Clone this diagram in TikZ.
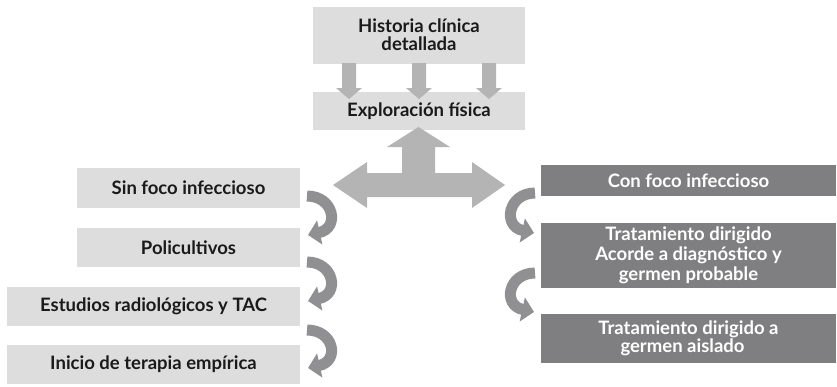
\documentclass[tikz,border=0pt]{standalone}
\usepackage{fontspec}
\setmainfont{Lato}
\usetikzlibrary{arrows.meta}
\definecolor{lightbox}{HTML}{DDDDDE}
\definecolor{darkbox}{HTML}{7F7F81}
\definecolor{arrowgray}{HTML}{B4B4B5}
\definecolor{curvegray}{HTML}{909092}
\definecolor{textdark}{HTML}{1A1A1A}
\begin{document}
\begin{tikzpicture}[x=1pt,y=-1pt,
  box/.style={rectangle, inner sep=0pt, align=center, font=\bfseries\fontsize{18.5}{20}\selectfont},
  lbox/.style={box, fill=lightbox, text=textdark},
  dbox/.style={box, fill=darkbox, text=white},
  bigarrow/.style={fill=arrowgray},
  curvearrow/.style={draw=curvegray, line width=11pt, -{Triangle[width=24pt,length=12pt]}}
]
\useasboundingbox (0,0) rectangle (837,386);
% top boxes
\node[lbox, minimum width=212pt, minimum height=57pt] (hist) at (419,35) {Historia clínica\\[-2pt]detallada};
\node[lbox, minimum width=212pt, minimum height=38pt] (expl) at (419,111) {Exploración física};
% left column
\node[lbox, minimum width=223pt, minimum height=40pt] (sin) at (188.5,188) {Sin foco infeccioso};
\node[lbox, minimum width=223pt, minimum height=39pt] (poli) at (188.5,247.5) {Policultivos};
\node[lbox, minimum width=293pt, minimum height=39pt] (estu) at (153.5,306.5) {Estudios radiológicos y TAC};
\node[lbox, minimum width=293pt, minimum height=39pt] (inic) at (153.5,364.5) {Inicio de terapia empírica};
% right column
\node[dbox, minimum width=295pt, minimum height=31pt] (con) at (688.5,180.5) {Con foco infeccioso};
\node[dbox, minimum width=295pt, minimum height=65pt] (trat1) at (688.5,255.5) {Tratamiento dirigido\\Acorde a diagnóstico y\\germen probable};
\node[dbox, minimum width=295pt, minimum height=49pt] (trat2) at (688.5,338.5) {Tratamiento dirigido a\\[-2pt]germen aislado\hspace*{12pt}};
% three down arrows from hist to expl
\foreach \xx in {349,419,489}{
  \fill[bigarrow] (\xx-7,63) -- (\xx+7,63) -- (\xx+7,88) -- (\xx+13,88) -- (\xx,99) -- (\xx-13,88) -- (\xx-7,88) -- cycle;
}
% T-shaped arrow from expl
\fill[bigarrow] (418.5,127) -- (450,147) -- (435,147) -- (435,173) -- (472,173) -- (472,162) -- (505,185) -- (472,208) -- (472,197) -- (367,197) -- (367,208) -- (333,185) -- (367,162) -- (367,173) -- (402,173) -- (402,147) -- (387,147) -- cycle;
% curved arrows left
\coordinate (l1s) at (307,196); \coordinate (l1e) at (308,235);
\coordinate (l2s) at (307,262); \coordinate (l2e) at (308,301);
\coordinate (l3s) at (307,330); \coordinate (l3e) at (308,368);
\draw[curvearrow] (l1s) .. controls +(27,0) and +(32,-7) .. (l1e);
\draw[curvearrow] (l2s) .. controls +(27,0) and +(32,-7) .. (l2e);
\draw[curvearrow] (l3s) .. controls +(27,0) and +(32,-7) .. (l3e);
% curved arrows right
\coordinate (r1s) at (535,193); \coordinate (r1e) at (534,233);
\coordinate (r2s) at (535,273); \coordinate (r2e) at (534,312);
\draw[curvearrow] (r1s) .. controls +(-27,0) and +(-32,-7) .. (r1e);
\draw[curvearrow] (r2s) .. controls +(-27,0) and +(-32,-7) .. (r2e);
\end{tikzpicture}
\end{document}
